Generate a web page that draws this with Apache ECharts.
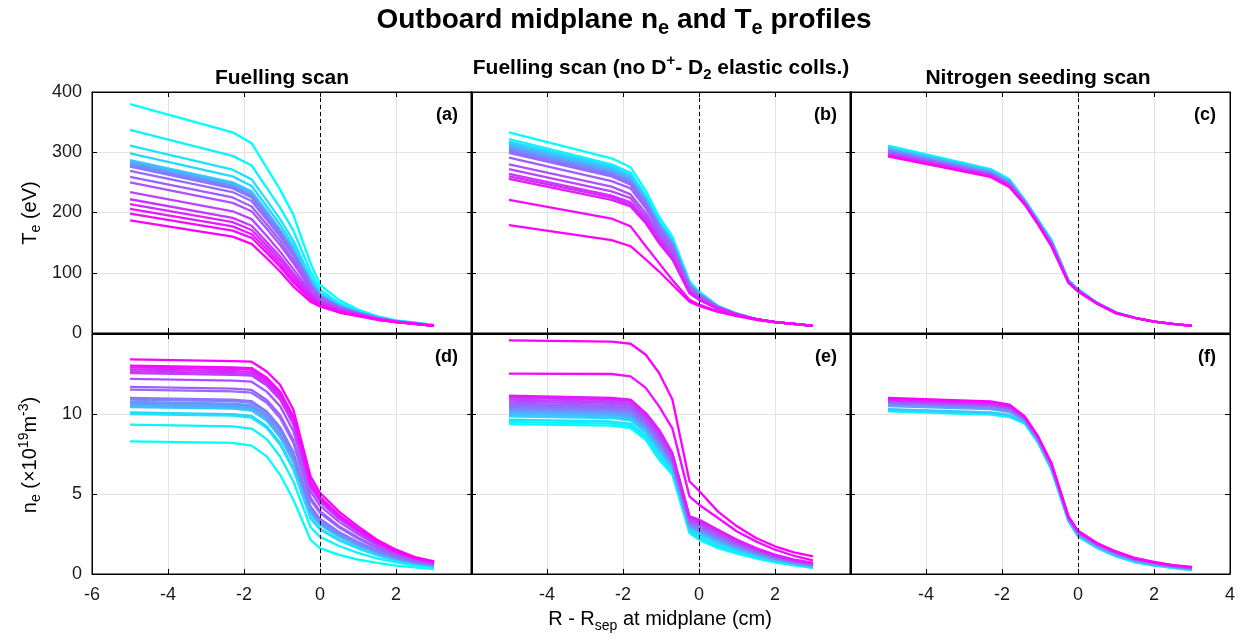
<!DOCTYPE html>
<html>
<head>
<meta charset="utf-8">
<script src="https://cdn.jsdelivr.net/npm/echarts@6/dist/echarts.min.js"></script>
<style>
  html, body { margin: 0; background: #fff; }
  #chart { width: 1247px; height: 643px; }
</style>
</head>
<body>
<div id="chart"></div>
<script>
// radial positions R - Rsep (cm), shared by every profile
const rPos = [-5, -2.3, -1.8, -1.4, -1.05, -0.7, -0.25, 0, 0.5, 1, 1.5, 2, 2.5, 3];

// (a) Te, fuelling scan (eV) - first line is cyan, last is magenta
const teFuel = [
  [380,333,315,274,238,196,116,80,55,39,28,21,17,13],
  [337,294,278,241,208,170,102,72,50,37,27,20,17,13],
  [311,271,255,220,189,153,93,67,48,35,26,20,16,13],
  [298,260,244,210,180,145,89,65,46,34,26,20,16,12],
  [287,250,235,202,172,139,85,63,45,34,25,20,16,12],
  [285,248,233,200,171,137,85,62,45,34,25,20,16,12],
  [283,246,231,199,170,136,84,62,44,33,25,19,16,12],
  [281,244,229,197,168,135,83,62,44,33,25,19,16,12],
  [280,243,228,196,168,134,83,61,44,33,25,19,16,12],
  [278,242,227,195,166,133,82,61,44,33,25,19,16,12],
  [276,240,225,193,165,132,82,61,44,33,25,19,16,12],
  [269,234,219,188,160,128,79,59,43,33,25,19,16,12],
  [259,225,210,180,153,121,76,57,42,32,24,19,16,12],
  [250,216,202,173,146,116,73,56,41,32,24,19,16,12],
  [234,202,189,161,135,106,68,53,39,31,23,19,15,12],
  [222,191,178,151,127,99,64,51,38,30,23,19,15,12],
  [214,184,171,145,121,94,61,49,37,30,23,18,15,12],
  [206,177,164,139,115,89,58,48,36,29,23,18,15,12],
  [198,170,158,133,110,84,56,46,35,29,22,18,15,12],
  [187,160,148,124,102,77,52,44,34,28,22,18,15,12]
];

// (b) Te, fuelling scan without D+ - D2 elastic collisions (eV)
const teFuelNoEl = [
  [333,290,275,236,193,160,86,69,45,32,23,18,15,12],
  [322,280,266,228,187,155,83,67,44,32,23,18,15,12],
  [318,277,262,225,184,153,82,66,44,32,23,18,15,12],
  [316,275,261,224,183,152,82,66,44,32,23,18,15,12],
  [314,273,259,223,182,151,81,66,44,32,23,18,15,12],
  [312,271,257,221,181,150,81,65,44,31,23,18,15,12],
  [310,269,256,220,180,149,80,65,44,31,23,18,15,12],
  [308,268,254,218,179,148,80,64,43,31,23,18,15,12],
  [306,266,252,217,178,147,79,64,43,31,23,18,15,12],
  [304,264,250,216,176,146,78,64,43,31,23,18,15,12],
  [302,262,249,214,175,145,78,63,43,31,23,18,15,12],
  [299,260,246,212,174,143,77,63,43,31,23,18,15,12],
  [291,252,240,207,169,139,75,61,42,31,23,18,15,12],
  [280,243,230,199,163,134,72,59,42,31,23,18,15,12],
  [272,235,224,193,158,130,70,58,41,30,23,18,15,12],
  [264,228,217,188,154,126,68,56,41,30,23,18,15,12],
  [260,225,213,185,151,124,67,56,40,30,23,18,15,12],
  [256,221,210,182,149,122,66,55,40,30,23,18,15,12],
  [221,190,177,144,116,88,55,47,36,29,22,18,15,12],
  [179,154,144,122,102,80,52,45,35,28,22,18,15,12]
];

// (c) Te, nitrogen seeding scan (eV)
const teNitro = [
  [311,272,255,221,188,155,88,73,50,34,25,19,15,12],
  [309,271,254,220,187,154,87,73,50,34,25,19,15,12],
  [307,269,252,219,186,153,87,72,50,34,25,19,15,12],
  [305,268,251,218,185,151,86,72,50,34,25,19,15,12],
  [303,266,249,217,184,150,86,71,50,34,25,19,15,12],
  [301,265,248,217,184,149,85,71,49,33,25,19,15,12],
  [299,263,246,216,183,148,85,70,49,33,25,19,15,12],
  [297,262,245,215,182,146,84,70,49,33,25,19,15,12],
  [295,260,243,214,181,145,84,69,49,33,25,19,15,12],
  [293,259,242,213,180,144,83,69,49,33,25,19,15,12]
];

// (d) ne, fuelling scan (1e19 m^-3)
const neFuel = [
  [8.29,8.19,8.02,7.35,6.2,4.64,2.14,1.62,1.2,0.9,0.69,0.52,0.41,0.31],
  [9.33,9.23,9.09,8.43,7.34,5.78,2.94,2.32,1.75,1.32,0.98,0.72,0.54,0.41],
  [10.0,9.9,9.77,9.12,8.08,6.52,3.46,2.78,2.1,1.59,1.17,0.85,0.63,0.47],
  [10.1,9.99,9.88,9.23,8.19,6.63,3.54,2.84,2.16,1.64,1.2,0.87,0.64,0.48],
  [10.43,10.33,10.21,9.57,8.55,6.99,3.8,3.07,2.33,1.77,1.3,0.94,0.68,0.51],
  [10.5,10.4,10.29,9.64,8.63,7.07,3.85,3.11,2.37,1.8,1.32,0.95,0.69,0.52],
  [10.57,10.46,10.36,9.71,8.71,7.15,3.9,3.16,2.4,1.83,1.34,0.97,0.7,0.52],
  [10.65,10.55,10.44,9.8,8.8,7.24,3.97,3.22,2.44,1.86,1.36,0.98,0.71,0.53],
  [10.75,10.64,10.54,9.9,8.9,7.34,4.04,3.28,2.5,1.9,1.39,1.0,0.72,0.54],
  [10.9,10.8,10.7,10.06,9.07,7.51,4.16,3.38,2.58,1.96,1.43,1.03,0.74,0.55],
  [11.0,10.89,10.8,10.16,9.18,7.62,4.23,3.45,2.63,2.0,1.46,1.05,0.75,0.56],
  [11.52,11.41,11.33,10.7,9.75,8.19,4.64,3.8,2.9,2.21,1.6,1.15,0.82,0.61],
  [11.69,11.58,11.51,10.88,9.94,8.38,4.77,3.92,2.99,2.28,1.65,1.18,0.84,0.63],
  [12.19,12.08,12.02,11.4,10.49,8.93,5.16,4.26,3.26,2.48,1.79,1.28,0.91,0.68],
  [12.56,12.45,12.4,11.78,10.9,9.34,5.44,4.51,3.45,2.63,1.9,1.35,0.95,0.71],
  [12.66,12.55,12.5,11.88,11.01,9.45,5.52,4.57,3.51,2.68,1.93,1.37,0.97,0.72],
  [12.79,12.68,12.63,12.02,11.15,9.59,5.62,4.66,3.57,2.73,1.96,1.4,0.98,0.73],
  [12.92,12.81,12.77,12.15,11.29,9.73,5.72,4.75,3.64,2.78,2.0,1.42,1.0,0.74],
  [13.02,12.91,12.87,12.26,11.4,9.84,5.8,4.82,3.69,2.82,2.03,1.44,1.01,0.75],
  [13.41,13.3,13.27,12.66,11.83,10.27,6.1,5.08,3.9,2.98,2.14,1.52,1.06,0.79]
];

// (e) ne, fuelling scan without elastic collisions (1e19 m^-3)
const neFuelNoEl = [
  [9.37,9.27,9.12,8.39,7.14,6.2,2.56,2.14,1.62,1.27,0.98,0.73,0.54,0.38],
  [9.5,9.4,9.25,8.51,7.28,6.3,2.64,2.23,1.7,1.33,1.03,0.76,0.57,0.4],
  [9.64,9.53,9.39,8.64,7.43,6.41,2.72,2.33,1.79,1.4,1.08,0.8,0.59,0.43],
  [9.85,9.74,9.6,8.84,7.65,6.57,2.84,2.48,1.93,1.5,1.15,0.86,0.64,0.46],
  [9.95,9.83,9.7,8.93,7.75,6.64,2.9,2.55,1.99,1.55,1.19,0.88,0.66,0.48],
  [10.05,9.93,9.8,9.03,7.86,6.72,2.96,2.62,2.06,1.6,1.22,0.91,0.68,0.5],
  [10.12,10.0,9.87,9.09,7.93,6.77,3.0,2.67,2.1,1.64,1.25,0.93,0.69,0.51],
  [10.2,10.08,9.95,9.17,8.02,6.83,3.04,2.73,2.16,1.68,1.28,0.95,0.71,0.52],
  [10.28,10.15,10.03,9.24,8.1,6.9,3.09,2.78,2.21,1.71,1.31,0.97,0.72,0.54],
  [10.36,10.23,10.11,9.32,8.19,6.96,3.14,2.84,2.26,1.75,1.34,0.99,0.74,0.55],
  [10.45,10.32,10.2,9.4,8.28,7.03,3.19,2.9,2.32,1.8,1.37,1.02,0.76,0.57],
  [10.55,10.42,10.3,9.5,8.39,7.1,3.25,2.98,2.38,1.85,1.4,1.04,0.78,0.59],
  [10.65,10.51,10.4,9.59,8.49,7.18,3.31,3.05,2.45,1.9,1.44,1.07,0.8,0.6],
  [10.78,10.64,10.53,9.71,8.63,7.28,3.38,3.14,2.53,1.96,1.49,1.1,0.83,0.63],
  [10.9,10.76,10.65,9.83,8.76,7.37,3.45,3.22,2.61,2.02,1.53,1.13,0.85,0.65],
  [11.02,10.87,10.77,9.94,8.88,7.46,3.52,3.31,2.69,2.08,1.57,1.17,0.87,0.67],
  [11.1,10.95,10.85,10.01,8.97,7.52,3.57,3.36,2.74,2.12,1.6,1.19,0.89,0.68],
  [11.15,11.0,10.9,10.06,9.02,7.56,3.6,3.4,2.77,2.14,1.62,1.2,0.9,0.69],
  [12.52,12.5,12.35,11.63,10.48,9.1,4.85,4.33,3.5,2.66,2.04,1.52,1.14,0.85],
  [14.6,14.52,14.39,13.7,12.56,10.9,5.8,5.2,3.9,2.98,2.25,1.73,1.35,1.1]
];

// (f) ne, nitrogen seeding scan (1e19 m^-3)
const neNitro = [
  [10.16,9.96,9.81,9.4,8.2,6.52,3.29,2.35,1.62,1.1,0.73,0.52,0.38,0.23],
  [10.22,10.02,9.86,9.43,8.23,6.55,3.31,2.37,1.64,1.12,0.75,0.54,0.39,0.24],
  [10.3,10.1,9.94,9.48,8.27,6.59,3.34,2.41,1.67,1.15,0.78,0.56,0.41,0.27],
  [10.5,10.3,10.12,9.58,8.36,6.69,3.42,2.49,1.75,1.23,0.84,0.61,0.45,0.32],
  [10.6,10.39,10.21,9.64,8.41,6.74,3.45,2.53,1.79,1.26,0.87,0.64,0.47,0.34],
  [10.7,10.49,10.3,9.69,8.46,6.79,3.49,2.58,1.83,1.3,0.9,0.67,0.5,0.37],
  [10.78,10.57,10.38,9.73,8.5,6.83,3.52,2.61,1.86,1.33,0.93,0.69,0.51,0.38],
  [10.85,10.64,10.44,9.77,8.53,6.86,3.54,2.64,1.88,1.35,0.95,0.71,0.53,0.4],
  [10.92,10.71,10.51,9.81,8.56,6.9,3.57,2.67,1.91,1.38,0.97,0.73,0.54,0.42],
  [11.0,10.79,10.58,9.85,8.6,6.94,3.6,2.7,1.94,1.41,1.0,0.75,0.56,0.44]
];

const panelData = [teFuel, teFuelNoEl, teNitro, neFuel, neFuelNoEl, neNitro];
const panelTags = ['(a)', '(b)', '(c)', '(d)', '(e)', '(f)'];
const scanTitles = ['Fuelling scan', 'Fuelling scan (no D+- D2 elastic colls.)', 'Nitrogen seeding scan'];

const FONT = '"Liberation Sans", Arial, Helvetica, sans-serif';
const panelLeft = [92, 471, 850];
const panelW = 380;
const rowTop = [92, 334];
const rowH = [241, 240];
const yMax = [400, 15];
const yStep = [100, 5];

// MATLAB "cool" colormap
function coolColor(i, n) {
  const t = n > 1 ? i / (n - 1) : 0;
  return 'rgb(' + Math.round(255 * t) + ',' + Math.round(255 * (1 - t)) + ',255)';
}

function tok(size, weight, pad) {
  const s = { fontSize: size, fontWeight: weight, fontFamily: FONT, fill: '#000' };
  if (pad) s.padding = pad;
  return s;
}

const chart = echarts.init(document.getElementById('chart'), null, { renderer: 'canvas' });

const grids = [], xAxes = [], yAxes = [], series = [];
const tickStyle = { inside: true, length: 5, lineStyle: { color: '#000', width: 1 } };
const lineBlack = { show: true, onZero: false, lineStyle: { color: '#000', width: 1 } };
const gridLine = { show: true, lineStyle: { color: '#e3e3e3', width: 1 } };

for (let p = 0; p < 6; p++) {
  const row = p < 3 ? 0 : 1;
  const col = p % 3;
  grids.push({
    left: panelLeft[col], top: rowTop[row], width: panelW, height: rowH[row],
    show: true, borderColor: '#000', borderWidth: 1, containLabel: false
  });
  xAxes.push({
    gridIndex: p, type: 'value', min: -6, max: 4, interval: 2,
    axisLine: lineBlack, axisTick: tickStyle, splitLine: gridLine,
    axisLabel: {
      show: row === 1, showMinLabel: col === 0, showMaxLabel: col === 2,
      fontSize: 18, fontFamily: FONT, color: '#1a1a1a', margin: 12
    }
  });
  yAxes.push({
    gridIndex: p, type: 'value', min: 0, max: yMax[row], interval: yStep[row],
    axisLine: lineBlack, axisTick: tickStyle, splitLine: gridLine,
    axisLabel: {
      show: col === 0, showMaxLabel: row === 0,
      fontSize: 18, fontFamily: FONT, color: '#1a1a1a', margin: 10
    }
  });

  const lines = panelData[p];
  lines.forEach((vals, i) => {
    const s = {
      type: 'line', xAxisIndex: p, yAxisIndex: p, z: 3,
      data: rPos.map((r, k) => [r, vals[k]]),
      symbol: 'none', animation: false, silent: true,
      lineStyle: { width: 2.3, color: coolColor(i, lines.length) }
    };
    if (i === 0) {
      s.markLine = {
        silent: true, symbol: ['none', 'none'], animation: false,
        label: { show: false },
        lineStyle: { type: [4, 3], color: '#000', width: 1 },
        data: [{ xAxis: 0 }]
      };
    }
    series.push(s);
  });
}

// ticks on the top and right edges (MATLAB box style)
for (let p = 0; p < 6; p++) {
  const row = p < 3 ? 0 : 1;
  xAxes.push({
    gridIndex: p, type: 'value', position: 'top', min: -6, max: 4, interval: 2,
    axisLine: lineBlack, axisTick: tickStyle, axisLabel: { show: false }, splitLine: { show: false }
  });
  yAxes.push({
    gridIndex: p, type: 'value', position: 'right', min: 0, max: yMax[row], interval: yStep[row],
    axisLine: lineBlack, axisTick: tickStyle, axisLabel: { show: false }, splitLine: { show: false }
  });
}

const graphics = [
  {
    type: 'text', x: 624, y: 20,
    style: {
      text: '{b|Outboard midplane n}{bs|e}{b| and T}{bs|e}{b| profiles}',
      align: 'center', verticalAlign: 'middle',
      rich: { b: tok(28, 'bold'), bs: tok(20, 'bold', [17, 0, 0, 0]) }
    }
  },
  {
    type: 'text', x: 282, y: 78,
    style: { text: '{b|' + scanTitles[0] + '}', align: 'center', verticalAlign: 'middle', rich: { b: tok(21, 'bold') } }
  },
  {
    type: 'text', x: 661, y: 68,
    style: {
      text: '{b|Fuelling scan (no D}{sp|+}{b|- D}{sb|2}{b| elastic colls.)}',
      align: 'center', verticalAlign: 'middle',
      rich: { b: tok(21, 'bold'), sp: tok(15, 'bold', [0, 0, 14, 0]), sb: tok(15, 'bold', [14, 0, 0, 0]) }
    }
  },
  {
    type: 'text', x: 1038, y: 78,
    style: { text: '{b|' + scanTitles[2] + '}', align: 'center', verticalAlign: 'middle', rich: { b: tok(21, 'bold') } }
  },
  {
    type: 'text', x: 30, y: 213, rotation: Math.PI / 2,
    style: {
      text: '{r|T}{rs|e}{r| (eV)}', align: 'center', verticalAlign: 'middle',
      rich: { r: tok(20, 'normal'), rs: tok(14, 'normal', [12, 0, 0, 0]) }
    }
  },
  {
    type: 'text', x: 30, y: 455, rotation: Math.PI / 2,
    style: {
      text: '{r|n}{rs|e}{r| (×10}{rp|19}{r|m}{rp|-3}{r|)}', align: 'center', verticalAlign: 'middle',
      rich: { r: tok(20, 'normal'), rs: tok(14, 'normal', [12, 0, 0, 0]), rp: tok(14, 'normal', [0, 0, 12, 0]) }
    }
  },
  {
    type: 'text', x: 660, y: 619,
    style: {
      text: '{r|R - R}{rs|sep}{r| at midplane (cm)}', align: 'center', verticalAlign: 'middle',
      rich: { r: tok(20, 'normal'), rs: tok(14, 'normal', [14, 0, 0, 0]) }
    }
  }
];

for (let p = 0; p < 6; p++) {
  const row = p < 3 ? 0 : 1;
  const col = p % 3;
  graphics.push({
    type: 'text', x: panelLeft[col] + panelW - 14, y: rowTop[row] + 23, z: 10,
    style: {
      text: panelTags[p], align: 'right', verticalAlign: 'middle',
      fontSize: 18, fontWeight: 'bold', fontFamily: FONT, fill: '#000'
    }
  });
}

const option = {
  backgroundColor: '#ffffff',
  animation: false,
  grid: grids,
  xAxis: xAxes,
  yAxis: yAxes,
  series: series,
  graphic: graphics
};

chart.setOption(option);
</script>
</body>
</html>
